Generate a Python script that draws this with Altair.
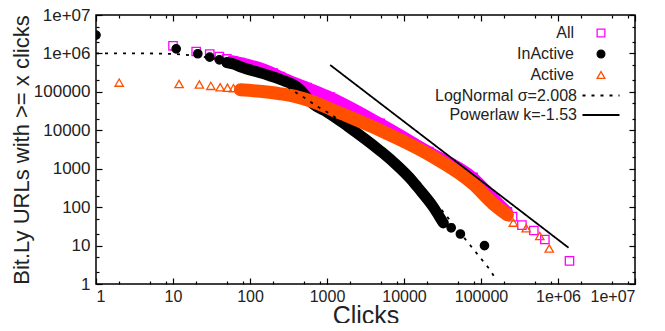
import altair as alt
import pandas as pd

# ---------------- data ----------------
series_names = ["All", "InActive", "Active"]
series_colors = ["#ff00ff", "#000000", "#ff5000"]
series_fills = ["transparent", "#000000", "transparent"]
series_shapes = ["square", "circle", "triangle-up"]

# All (magenta squares)
all_x = [10, 20, 30, 40, 50, 60, 75, 200, 248, 555, 1104, 4920, 21000, 79000, 145000, 220000,
         257000, 340000, 485000, 675000, 1410000]
all_y = [1.58e6, 1.12e6, 9.6e5, 8.3e5, 7.2e5, 6.4e5, 5.8e5, 3.1e5, 2.5e5, 1.3e5, 7.3e4, 1.51e4, 2800, 593,
         174, 75, 56.6, 34, 24.7, 14.4, 4.0]
all_band_x = [60, 75, 200, 248, 555, 1104, 4920, 21000, 79000, 145000, 220000]
all_band_y = [6.4e5, 5.8e5, 3.1e5, 2.5e5, 1.3e5, 7.3e4, 1.51e4, 2800, 593, 174, 75]

# InActive (black filled circles)
inact_x = [1, 11, 21, 30, 40, 50, 61, 75, 166, 248, 450, 555, 664, 1000, 1835, 4920, 7260, 13200, 14900,
           24000, 29600, 32400, 41000, 54000, 111000]
inact_y = [3.0e6, 1.32e6, 9.8e5, 8.0e5, 6.8e5, 5.8e5, 5.3e5, 4.5e5, 2.77e5, 2.1e5, 1.13e5, 6.9e4, 4.8e4,
           3.0e4, 1.3e4, 2910, 1500, 453, 336, 101, 52, 38.8, 29, 20, 10]
inact_band_x = [50, 61, 75, 166, 248, 450, 555, 664, 1000, 1835, 4920, 7260, 13200, 14900, 24000, 29600,
                32400]
inact_band_y = [5.8e5, 5.3e5, 4.5e5, 2.77e5, 2.1e5, 1.13e5, 6.9e4, 4.8e4, 3.0e4, 1.3e4, 2910, 1500, 453,
                336, 101, 52, 38.8]

# Active (orange open triangles)
act_x = [2, 12, 22, 31, 41, 51, 61, 75, 200, 248, 405, 664, 1104, 4920, 22000, 79000, 145000, 220000,
         263000, 386000, 580000, 770000]
act_y = [1.74e5, 1.6e5, 1.55e5, 1.43e5, 1.32e5, 1.28e5, 1.25e5, 1.13e5, 9.5e4, 8.9e4, 7.4e4, 5.5e4, 3.6e4,
         9930, 2220, 402, 121, 63, 39.5, 28.2, 17.8, 8.4]
act_band_x = [75, 200, 248, 405, 664, 1104, 4920, 22000, 79000, 145000, 220000]
act_band_y = [1.13e5, 9.5e4, 8.9e4, 7.4e4, 5.5e4, 3.6e4, 9930, 2220, 402, 121, 63]

# fitted curves
fit_names = ["LogNormal \u03c3=2.008", "Powerlaw k=-1.53"]
lognorm_x = [1, 5, 10, 20, 40, 100, 200, 408, 550, 726, 1000, 3000, 10000, 30000, 69000, 132000, 160000]
lognorm_y = [1.0e6, 1.0e6, 9.7e5, 8.8e5, 7.0e5, 4.2e5, 2.4e5, 9.2e4, 6.4e4, 4.3e4, 3.0e4, 7.0e3, 900, 90,
             11.5, 2.3, 1.2]
power_x = [1100, 1.37e6]
power_y = [5.0e5, 8.8]

# axis ticks
decades = [1, 10, 100, 1000, 10000, 100000, 1000000, 10000000]
x_minor = [m * d for d in decades[:-1] for m in (2, 5, 8)]
y_minor = [m * d for d in decades[:-1] for m in (2, 5)]

# ---------------- chart ----------------
W, H = 539, 269
FONT = "Liberation Sans"
TXT = "#222"
xs = alt.Scale(type="log", domain=[1, 1e7])
ys = alt.Scale(type="log", domain=[1, 1e7])
label_expr = ("datum.value >= 1000000 ? '1e+0' + format(log(datum.value) / LN10, 'd') "
              ": format(datum.value, 'd')")


def axis(orient, values, size, labels=False, title=None, fs=17, **kw):
    return alt.Axis(orient=orient, values=values, tickSize=size, offset=-size, labels=labels,
                    title=title, domain=False, grid=False, ticks=True, tickColor="#000",
                    tickWidth=1.2, labelFont=FONT, labelFontSize=fs, labelColor=TXT, **kw)


x_main = axis("bottom", decades, 6, labels=True, fs=16, labelExpr=label_expr, labelPadding=4,
              title="Clicks", titleFont=FONT, titleColor=TXT, titleFontSize=25,
              titleBaseline="alphabetic", titleY=45, titleFontWeight="normal")
y_main = axis("left", decades, 6, labels=True, labelExpr=label_expr, labelPadding=6,
              title="Bit.Ly URLs with >= x clicks", titleFont=FONT, titleColor=TXT, titleFontSize=22,
              titleBaseline="alphabetic", titleX=-74, titleFontWeight="normal")

pts_legend = alt.Legend(orient="none", legendX=306, legendY=10, title=None, labelAlign="right",
                        labelOffset={"expr": "-35"}, symbolOffset=191, symbolSize=60,
                        symbolStrokeWidth=1.3, labelFontSize=16, labelFont=FONT, labelColor=TXT,
                        rowPadding=5, padding=0, labelLimit=300)
line_legend = alt.Legend(orient="none", legendX=277, legendY=72.5, title=None, labelAlign="right",
                         labelOffset={"expr": "-32"}, symbolOffset=220, symbolType="M-4,0L4,0",
                         symbolSize=85.6, symbolStrokeColor="#000", symbolStrokeWidth=1.8,
                         symbolFillColor="transparent", labelFontSize=16, labelFont=FONT,
                         labelColor=TXT, rowPadding=3.5, padding=0, labelLimit=300)


def band(xv, yv, color, width, xa, ya):
    df = pd.DataFrame({"x": xv, "y": yv})
    return alt.Chart(df).mark_line(strokeWidth=width, color=color, clip=True, strokeCap="round",
                                   strokeJoin="round", interpolate="monotone").encode(
        x=alt.X("x:Q", scale=xs, axis=xa),
        y=alt.Y("y:Q", scale=ys, axis=ya),
    )


def points(xv, yv, name):
    df = pd.DataFrame({"x": xv, "y": yv, "series": name})
    return alt.Chart(df).mark_point(size=70, strokeWidth=1.3, opacity=1, clip=True).encode(
        x=alt.X("x:Q", scale=xs, axis=None),
        y=alt.Y("y:Q", scale=ys, axis=None),
        stroke=alt.Stroke("series:N", scale=alt.Scale(domain=series_names, range=series_colors),
                          legend=pts_legend),
        fill=alt.Fill("series:N", scale=alt.Scale(domain=series_names, range=series_fills),
                      legend=pts_legend),
        shape=alt.Shape("series:N", scale=alt.Scale(domain=series_names, range=series_shapes),
                        legend=pts_legend),
    )


fit_df = pd.concat([
    pd.DataFrame({"x": lognorm_x, "y": lognorm_y, "fit": fit_names[0]}),
    pd.DataFrame({"x": power_x, "y": power_y, "fit": fit_names[1]}),
])
fits = alt.Chart(fit_df).mark_line(color="#000", strokeWidth=1.8, clip=True).encode(
    x=alt.X("x:Q", scale=xs, axis=axis("top", decades, 6)),
    y=alt.Y("y:Q", scale=ys, axis=axis("right", decades, 6)),
    strokeDash=alt.StrokeDash("fit:N", scale=alt.Scale(domain=fit_names, range=[[3, 6], [1, 0]]),
                              legend=line_legend),
)

chart = alt.layer(
    band(all_band_x, all_band_y, series_colors[0], 11, x_main, y_main),
    points(all_x, all_y, "All"),
    band(inact_band_x, inact_band_y, series_colors[1], 11, axis("bottom", x_minor, 3),
         axis("left", y_minor, 3)),
    points(inact_x, inact_y, "InActive"),
    band(act_band_x, act_band_y, series_colors[2], 13, axis("top", x_minor, 3),
         axis("right", y_minor, 3)),
    points(act_x, act_y, "Active"),
    fits,
).resolve_axis(x="independent", y="independent").properties(
    width=W, height=H,
    background="white",
    autosize=alt.AutoSizeParams(type="none"),
    padding={"left": 88, "top": 7, "right": 22, "bottom": 39},
).configure_view(stroke="#000", strokeWidth=1.5)

chart.save("out.html", embed_options={"renderer": "svg", "actions": False})
